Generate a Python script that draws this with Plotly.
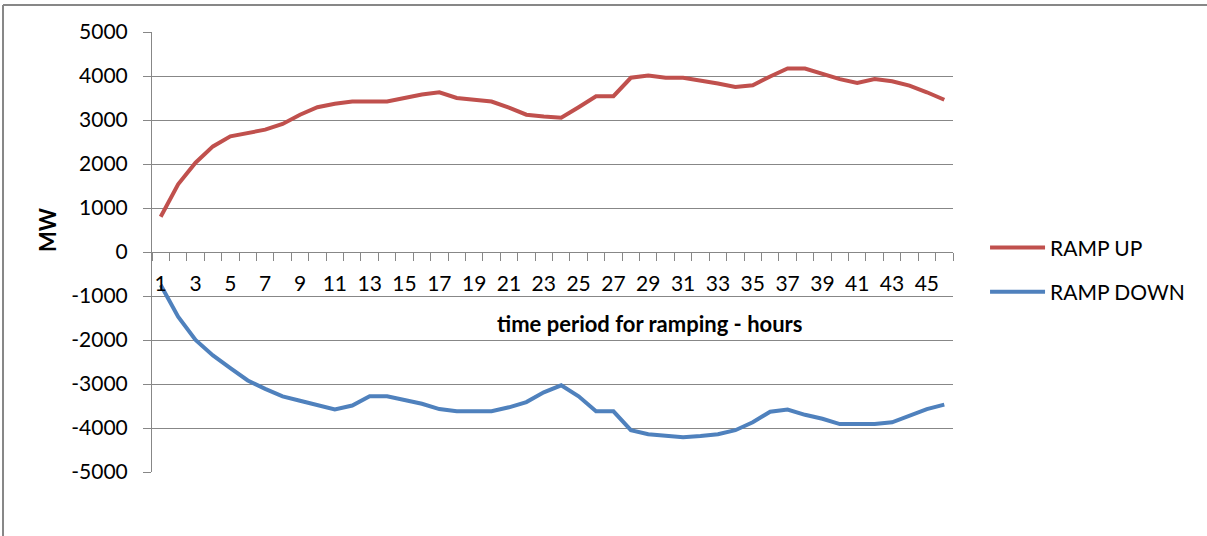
import plotly.graph_objects as go

hours = list(range(1, 47))

ramp_up = [800, 1540, 2030, 2400, 2630, 2700, 2780, 2910, 3120, 3290,
           3370, 3420, 3420, 3420, 3500, 3580, 3630, 3500, 3460, 3420,
           3280, 3120, 3080, 3050, 3290, 3540, 3540, 3960, 4010, 3960,
           3960, 3900, 3830, 3750, 3790, 3990, 4170, 4170, 4040, 3930,
           3840, 3930, 3880, 3780, 3630, 3460]

ramp_down = [-750, -1470, -2000, -2350, -2640, -2920, -3110, -3280, -3380, -3490,
             -3580, -3490, -3280, -3280, -3360, -3450, -3570, -3620, -3620, -3620,
             -3530, -3410, -3190, -3030, -3280, -3620, -3620, -4050, -4140, -4180,
             -4210, -4180, -4140, -4050, -3870, -3630, -3580, -3700, -3790, -3910,
             -3910, -3910, -3870, -3720, -3570, -3470]

y_ticks = list(range(-5000, 5001, 1000))
x_labels = hours[::2]

grey = "#878787"
font = "Lato"

fig = go.Figure()
fig.add_trace(go.Scatter(x=hours, y=ramp_up, name="RAMP UP", mode="lines",
                         line=dict(color="#C0504D", width=4), legendgroup="up"))
fig.add_trace(go.Scatter(x=hours, y=ramp_down, name="RAMP DOWN", mode="lines",
                         line=dict(color="#4F81BD", width=4), legendgroup="down"))

fig.update_layout(
    width=1207, height=536,
    margin=dict(l=152, r=254, t=32, b=64),
    paper_bgcolor="white", plot_bgcolor="white",
    font=dict(family=font, size=21, color="black"),
    showlegend=True,
    legend=dict(x=1.04, y=0.556, xanchor="left", yanchor="top",
                font=dict(size=21), tracegroupgap=14, itemwidth=55,
                bgcolor="rgba(0,0,0,0)"),
    annotations=[
        dict(text="<b>time period for ramping - hours</b>", x=0.6205, y=0.3386,
             xref="paper", yref="paper", xanchor="center", yanchor="middle",
             showarrow=False, font=dict(size=22)),
        dict(text="<b>MW</b>", x=-0.1298, y=0.55, xref="paper", yref="paper",
             xanchor="center", yanchor="middle",
             showarrow=False, textangle=-90, font=dict(size=22)),
    ],
    shapes=[
        # chart frame (top and left edges visible)
        dict(type="line", xref="paper", yref="paper", x0=-0.186, x1=1.32,
             y0=1.0614, y1=1.0614, line=dict(color=grey, width=2)),
        dict(type="line", xref="paper", yref="paper", x0=-0.186, x1=-0.186,
             y0=1.0614, y1=-0.2, line=dict(color=grey, width=2)),
    ],
)

fig.update_xaxes(
    range=[0.5, 46.5], anchor="free", position=0.5,
    tickmode="array", tickvals=x_labels, ticktext=[str(v) for v in x_labels],
    ticks="", ticklabelstandoff=13,
    showgrid=False, zeroline=False, showline=True, linecolor=grey, linewidth=1,
    minor=dict(tickvals=[h - 0.5 for h in hours] + [hours[-1] + 0.5],
               ticks="outside", ticklen=8, tickcolor=grey, showgrid=False),
)
fig.update_yaxes(
    range=[-5000, 5000], tickmode="array", tickvals=y_ticks,
    ticktext=[str(v) for v in y_ticks],
    ticks="outside", ticklen=8, tickcolor=grey, ticklabelstandoff=11,
    showgrid=True, gridcolor=grey, gridwidth=1, zeroline=False,
    showline=True, linecolor=grey, linewidth=1,
)

# drop the browser's default page margin so the figure sits at the corner
fig.write_html("out.html", config={"displayModeBar": False},
               post_script="document.body.style.margin='0';")
